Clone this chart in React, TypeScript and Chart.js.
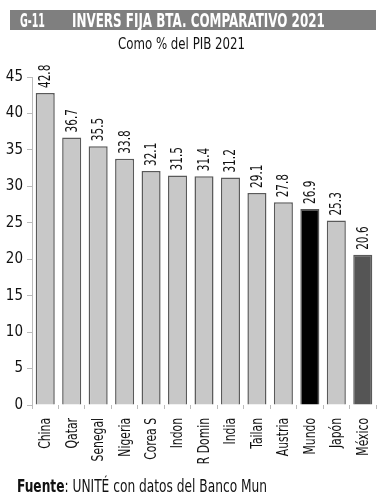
import React, { useEffect, useLayoutEffect, useRef } from "react";
import { Chart, registerables } from "chart.js";

Chart.register(...registerables);

const categories = ["China", "Qatar", "Senegal", "Nigeria", "Corea S", "Indon", "R Domin", "India", "Tailan", "Austria", "Mundo", "Japón", "México"];
const values = [42.8, 36.7, 35.5, 33.8, 32.1, 31.5, 31.4, 31.2, 29.1, 27.8, 26.9, 25.3, 20.6];
const barColors = ["#c8c8c8", "#c8c8c8", "#c8c8c8", "#c8c8c8", "#c8c8c8", "#c8c8c8", "#c8c8c8", "#c8c8c8", "#c8c8c8", "#c8c8c8", "#000000", "#c8c8c8", "#555555"];
const yTicks = [0, 5, 10, 15, 20, 25, 30, 35, 40, 45];

const FONT = "'DejaVu Sans Condensed', 'DejaVu Sans', sans-serif";

function drawRotated(ctx: any, text: string, x: number, y: number, align: "left" | "right", size: number, squeeze: number) {
  ctx.save();
  ctx.translate(x, y);
  ctx.rotate(-Math.PI / 2);
  ctx.scale(squeeze, 1);
  ctx.font = `${size}px ${FONT}`;
  ctx.textAlign = align;
  ctx.textBaseline = "middle";
  ctx.fillText(text, 0, 0);
  ctx.restore();
}

const labelPlugin = {
  id: "customLabels",
  afterDraw(chart: any) {
    const ctx = chart.ctx;
    const meta = chart.getDatasetMeta(0);
    const xs = chart.scales.x;
    ctx.save();
    ctx.fillStyle = "#111";
    meta.data.forEach((bar: any, i: number) => {
      drawRotated(ctx, values[i].toFixed(1), bar.x + 1, bar.y - 5, "left", 15, 0.78);
    });
    categories.forEach((c, i) => {
      drawRotated(ctx, c, xs.getPixelForValue(i) + 1, 418, "right", 15, 0.8);
    });
    ctx.restore();
  },
};

function FitText({ text, width, style, children }: any) {
  const ref = useRef<HTMLSpanElement>(null);
  useLayoutEffect(() => {
    const el = ref.current!;
    el.style.transform = "none";
    const w = el.scrollWidth || el.getBoundingClientRect().width;
    if (w > 0) el.style.transform = `scaleX(${width / w})`;
  }, [width]);
  return (
    <span ref={ref} style={{ display: "inline-block", whiteSpace: "nowrap", transformOrigin: "left center", ...style }}>
      {children ?? text}
    </span>
  );
}

export default function App() {
  const ref = useRef<HTMLCanvasElement>(null);
  useEffect(() => {
    document.body.style.margin = "0";
    const chart = new Chart(ref.current!, {
      type: "bar",
      data: {
        labels: categories,
        datasets: [
          {
            data: values,
            backgroundColor: barColors,
            borderColor: "#5a5a5a",
            borderWidth: 1.5,
            barPercentage: 0.72,
            categoryPercentage: 1,
          },
        ],
      },
      options: {
        animation: false,
        responsive: false,
        maintainAspectRatio: false,
        layout: { padding: { top: 77, right: 10, left: 0, bottom: 0 } },
        plugins: { legend: { display: false }, tooltip: { enabled: false } },
        scales: {
          x: {
            grid: { display: true, drawOnChartArea: false, drawTicks: true, tickLength: 4, color: "#bbbbbb", offset: true },
            border: { display: false },
            ticks: { display: false },
            afterFit: (s: any) => { s.height = 95; },
          },
          y: {
            min: 0,
            max: 45,
            afterBuildTicks: (s: any) => { s.ticks = yTicks.map((v) => ({ value: v })); },
            grid: { display: true, drawOnChartArea: false, drawTicks: true, tickLength: 5, color: "#bbbbbb" },
            border: { display: true, color: "#bbbbbb", width: 1 },
            ticks: { color: "#111", padding: 4, font: { family: FONT, size: 15 } },
            afterFit: (s: any) => { s.width = 32; },
          },
        },
      },
      plugins: [labelPlugin],
    });
    return () => chart.destroy();
  }, []);

  return (
    <div style={{ position: "absolute", left: 0, top: 0, width: 386, height: 500, background: "#fff", overflow: "hidden", fontFamily: FONT }}>
      <canvas ref={ref} width={386} height={500} style={{ position: "absolute", left: 0, top: 0 }} />
      <div style={{ position: "absolute", left: 10, top: 10, width: 366, height: 20, background: "#7f7f7f", color: "#fff", fontWeight: "bold", fontSize: 19, lineHeight: "20px" }}>
        <div style={{ position: "absolute", left: 10, top: 0 }}>
          <FitText text="G-11" width={25} />
        </div>
        <div style={{ position: "absolute", left: 62, top: 0 }}>
          <FitText text="INVERS FIJA BTA. COMPARATIVO 2021" width={253} />
        </div>
      </div>
      <div style={{ position: "absolute", left: 118, top: 34, fontSize: 16, color: "#111", lineHeight: "20px" }}>
        <FitText text="Como % del PIB 2021" width={127} />
      </div>
      <div style={{ position: "absolute", left: 17, top: 475, fontSize: 17, color: "#111", lineHeight: "22px" }}>
        <FitText width={250}>
          <b>Fuente</b>: UNITÉ con datos del Banco Mun
        </FitText>
      </div>
    </div>
  );
}
